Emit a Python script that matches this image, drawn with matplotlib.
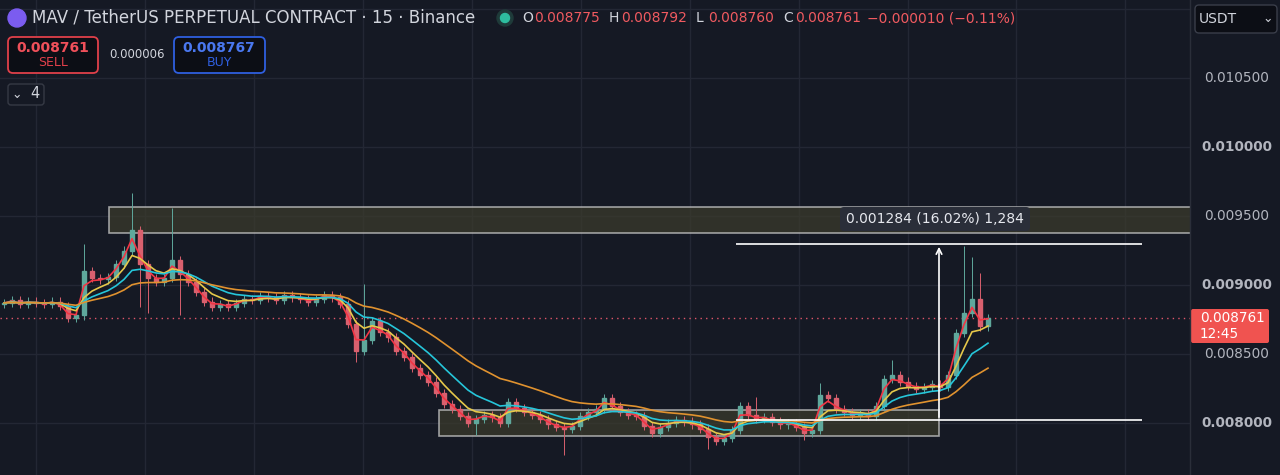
import matplotlib
matplotlib.use("Agg")
import matplotlib.pyplot as plt
from matplotlib.patches import Rectangle, FancyBboxPatch, Circle
import numpy as np
import pandas as pd

closes = [0.00887,0.00889,0.00886,0.00888,0.00887,0.00886,0.00888,0.00885,0.00876,0.00878,
          0.00910,0.00905,0.00904,0.00906,0.00915,0.00925,0.00940,0.00915,0.00905,0.00902,
          0.00905,0.00918,0.00908,0.00902,0.00895,0.00888,0.00884,0.00886,0.00884,0.00887,
          0.00890,0.00889,0.00892,0.00891,0.00889,0.00893,0.00891,0.00890,0.00888,0.00890,
          0.00893,0.00891,0.00886,0.00872,0.00852,0.00860,0.00874,0.00866,0.00862,0.00852,
          0.00848,0.00840,0.00835,0.00830,0.00822,0.00814,0.00810,0.00805,0.00800,0.00803,
          0.00806,0.00804,0.00800,0.00815,0.00811,0.00808,0.00806,0.00803,0.00799,0.00797,
          0.00796,0.00798,0.00805,0.00808,0.00810,0.00818,0.00812,0.00808,0.00806,0.00805,
          0.00798,0.00793,0.00797,0.00800,0.00802,0.00801,0.00799,0.00796,0.00790,0.00787,
          0.00789,0.00795,0.00812,0.00806,0.00803,0.00804,0.00801,0.00799,0.00800,0.00797,
          0.00793,0.00795,0.00820,0.00818,0.00810,0.00808,0.00806,0.00807,0.00805,0.00812,
          0.00832,0.00835,0.00830,0.00827,0.00825,0.00826,0.00828,0.00826,0.00835,0.00865,
          0.00880,0.00890,0.00870,0.008761]
first_open = 0.00886
wick_highs = {10:0.00930,16:0.00967,21:0.00956,45:0.00901,94:0.00819,102:0.00829,111:0.00846,
              120:0.00928,121:0.00920,122:0.00909}
wick_lows = {17:0.00884,18:0.00880,22:0.00878,44:0.00844,59:0.00791,70:0.00777,88:0.00781,100:0.00788}
ma_periods = [2, 5, 10, 22]
ma_colors = ['#f23645', '#e6c84a', '#26c6da', '#e0922f']
price_ticks = [0.0080, 0.0085, 0.0090, 0.0095, 0.0100, 0.0105]
top_zone = (0.009377, 0.009566)
bottom_zone = (0.007906, 0.008094)
measure_lo, measure_hi = 0.008022, 0.009297
last_price = 0.008761

BG = '#151924'
W, H = 1280, 475
STEP = 8.0
fig = plt.figure(figsize=(12.8, 4.75), dpi=100, facecolor=BG)
ax = fig.add_axes([0, 0, 1190/W, 1])
ax.set_facecolor(BG)
def p_of_y(y):
    return 0.0080 + (423 - y) * 0.0005 / 69
ax.set_ylim(p_of_y(475), p_of_y(0))
ax.set_xlim(-0.5, 1190/STEP - 0.5)
for s in ax.spines.values():
    s.set_visible(False)
ax.set_xticks([]); ax.set_yticks([])

for gx in [32, 141, 250, 359, 468, 577, 686, 795, 904, 1012, 1121]:
    ax.axvline(gx/STEP, color='#232734', lw=1, zorder=0)
for p in price_ticks + [0.0110]:
    ax.axhline(p, color='#232734', lw=1, zorder=0)

c = np.array(closes)
o = np.concatenate([[first_open], c[:-1]])
n = len(c)
for i in range(n):
    hi = max(o[i], c[i]) + 0.00003
    lo = min(o[i], c[i]) - 0.00003
    hi = wick_highs.get(i, hi); lo = wick_lows.get(i, lo)
    col = '#5fa89c' if c[i] >= o[i] else '#d9606e'
    ax.vlines(i, lo, hi, color=col, lw=0.7, zorder=3)
    bh = max(abs(c[i]-o[i]), 0.000006)
    ax.add_patch(Rectangle((i-0.2, min(o[i], c[i])), 0.4, bh, color=col, zorder=3))

s = pd.Series(c)
x = np.arange(n)
for per, col in zip(ma_periods, ma_colors):
    ax.plot(x, s.ewm(span=per, adjust=False).mean(), color=col, lw=1.2, zorder=4)

ax.add_patch(Rectangle((105/STEP, top_zone[0]), (1190-105)/STEP, top_zone[1]-top_zone[0],
             facecolor='#3a3a2c', alpha=0.75, edgecolor='#c9c9c9', lw=1.2, zorder=2))
ax.add_patch(Rectangle((435/STEP, bottom_zone[0]), (935-435)/STEP, bottom_zone[1]-bottom_zone[0],
             facecolor='#3a3a2c', alpha=0.75, edgecolor='#c9c9c9', lw=1.2, zorder=2))
ax.hlines([measure_lo, measure_hi], 732/STEP, 1138/STEP, color='white', lw=1.2, zorder=5)
ax.annotate('', xy=(935/STEP, measure_hi), xytext=(935/STEP, measure_lo),
            arrowprops=dict(arrowstyle='->', color='white', lw=1.2), zorder=5)
ax.axhline(last_price, color='#e0566a', lw=1, ls=(0, (1, 3)), zorder=1)

ov = fig.add_axes([0, 0, 1, 1]); ov.set_xlim(0, W); ov.set_ylim(H, 0); ov.axis('off')
ov.axvline(1190, color='#2a2e39', lw=1)
ov.add_patch(FancyBboxPatch((840, 207), 190, 24, boxstyle='round,pad=0,rounding_size=4',
             facecolor='#2a2e39', edgecolor='none'))
ov.text(935, 219, '0.001284 (16.02%) 1,284', color='#e6e8ee', fontsize=10, ha='center', va='center')
for p in price_ticks:
    y = 423 - (p-0.0080)/0.0005*69
    bold = abs((p*1000) % 1) < 1e-6
    ov.text(1237, y, f'{p:.6f}', color='#b2b5be', fontsize=9.8, ha='center', va='center',
            fontweight='bold' if bold else 'normal')
ov.add_patch(FancyBboxPatch((1191, 309), 78, 34, boxstyle='round,pad=0,rounding_size=2',
             facecolor='#f05350', edgecolor='none'))
ov.text(1200, 318, f'{last_price:.6f}', color='white', fontsize=9.8, va='center')
ov.text(1200, 334, '12:45', color='white', fontsize=9.8, va='center')
ov.add_patch(FancyBboxPatch((1195, 5), 82, 28, boxstyle='round,pad=0,rounding_size=4',
             facecolor='#0c0e15', edgecolor='#3a3e4a'))
ov.text(1199, 19, 'USDT', color='#d1d4dc', fontsize=10, va='center')
ov.text(1268, 19, '⌄', color='#d1d4dc', fontsize=9, va='center', ha='center')

ov.add_patch(Circle((17, 18), 9, color='#7b5cf0'))
ov.text(32, 18, 'MAV / TetherUS PERPETUAL CONTRACT · 15 · Binance', color='#d1d4dc', fontsize=12, va='center')
ov.add_patch(Circle((505, 18), 8, color='#1f3b3a'))
ov.add_patch(Circle((505, 18), 4.5, color='#2ebd9f'))
xs = 522
for lab, val in [('O', '0.008775'), ('H', '0.008792'), ('L', '0.008760'), ('C', '0.008761')]:
    ov.text(xs, 18, lab, color='#d1d4dc', fontsize=10, va='center')
    ov.text(xs + 12, 18, val, color='#f05a60', fontsize=10, va='center')
    xs += 87
ov.text(xs - 3, 18, '−0.000010 (−0.11%)', color='#f05a60', fontsize=10, va='center')

ov.add_patch(FancyBboxPatch((8, 37), 90, 36, boxstyle='round,pad=0,rounding_size=5',
             facecolor='#0c0e15', edgecolor='#e0404a', lw=1.3))
ov.text(53, 48, '0.008761', color='#f0505a', fontsize=10, ha='center', va='center', fontweight='bold')
ov.text(53, 63, 'SELL', color='#e0404a', fontsize=9, ha='center', va='center')
ov.text(137, 55, '0.000006', color='#d1d4dc', fontsize=8.5, ha='center', va='center')
ov.add_patch(FancyBboxPatch((174, 37), 91, 36, boxstyle='round,pad=0,rounding_size=5',
             facecolor='#0c0e15', edgecolor='#2f5fe0', lw=1.3))
ov.text(219, 48, '0.008767', color='#4a78f0', fontsize=10, ha='center', va='center', fontweight='bold')
ov.text(219, 63, 'BUY', color='#2f5fe0', fontsize=9, ha='center', va='center')
ov.add_patch(FancyBboxPatch((8, 84), 36, 21, boxstyle='round,pad=0,rounding_size=3',
             facecolor='#151924', edgecolor='#363a45'))
ov.text(17, 94, '⌄', color='#d1d4dc', fontsize=9, ha='center', va='center')
ov.text(35, 94, '4', color='#d1d4dc', fontsize=10.5, ha='center', va='center')

fig.savefig('out.png', dpi=100, facecolor=BG)
